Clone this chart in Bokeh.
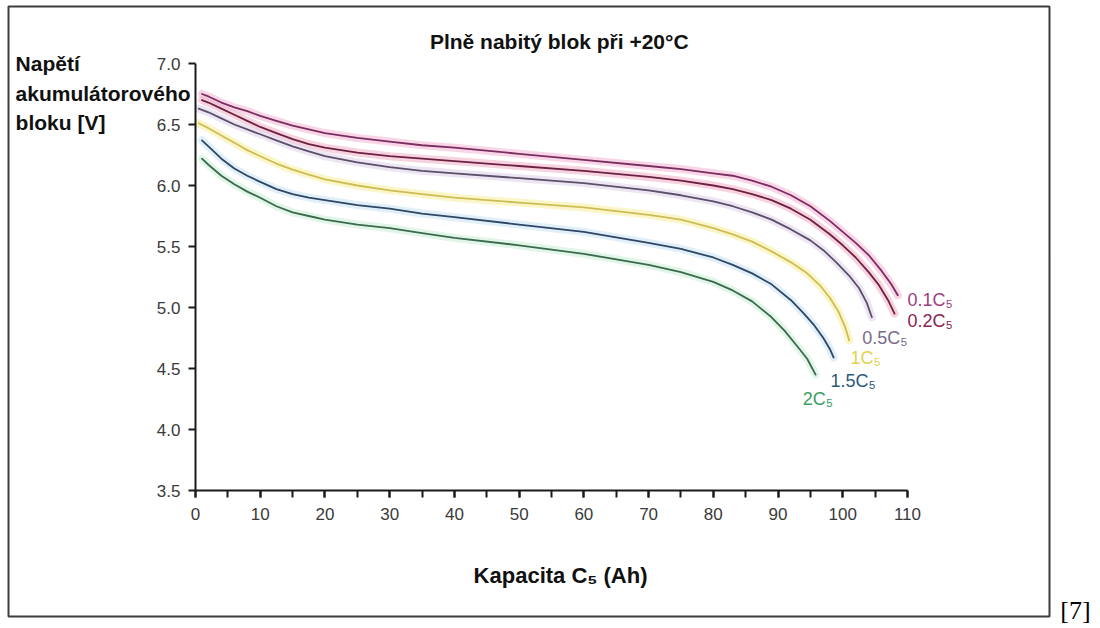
from bokeh.plotting import figure
from bokeh.models import Label, BoxAnnotation, LinearAxis, SingleIntervalTicker, PrintfTickFormatter
from bokeh.embed import file_html
from bokeh.resources import INLINE

# Discharge curves of a fully charged block at +20 °C: capacity (Ah) vs block voltage (V)
rate_labels = ["0.1C₅", "0.2C₅", "0.5C₅", "1C₅", "1.5C₅", "2C₅"]

cap_01 = [1, 2, 4, 6, 8, 10, 12.5, 15, 17.5, 20, 25, 30, 35, 40, 50, 60, 70, 75, 80, 83, 86, 89, 92, 95, 98, 100, 102, 104, 106, 107.5, 108.5]
volt_01 = [6.75, 6.73, 6.68, 6.64, 6.61, 6.57, 6.53, 6.49, 6.46, 6.43, 6.39, 6.36, 6.33, 6.31, 6.26, 6.21, 6.16, 6.135, 6.10, 6.08, 6.04, 5.99, 5.92, 5.83, 5.71, 5.62, 5.53, 5.43, 5.30, 5.19, 5.10]

cap_02 = [1, 2, 4, 6, 8, 10, 12.5, 15, 17.5, 20, 25, 30, 35, 40, 50, 60, 70, 75, 80, 83, 86, 89, 92, 95, 98, 100, 102, 104, 105.5, 107, 108]
volt_02 = [6.70, 6.68, 6.63, 6.58, 6.53, 6.48, 6.43, 6.38, 6.34, 6.31, 6.27, 6.24, 6.22, 6.20, 6.16, 6.12, 6.07, 6.04, 6.00, 5.97, 5.93, 5.88, 5.81, 5.72, 5.60, 5.51, 5.41, 5.29, 5.19, 5.06, 4.95]

cap_05 = [0.5, 2, 4, 6, 8, 10, 12.5, 15, 17.5, 20, 25, 30, 35, 40, 50, 60, 70, 75, 80, 83, 86, 89, 92, 95, 97, 99, 101, 102.5, 103.7, 104.5]
volt_05 = [6.63, 6.60, 6.55, 6.50, 6.46, 6.42, 6.37, 6.32, 6.28, 6.24, 6.19, 6.15, 6.12, 6.10, 6.06, 6.02, 5.96, 5.92, 5.87, 5.83, 5.78, 5.72, 5.64, 5.55, 5.47, 5.37, 5.26, 5.16, 5.04, 4.92]

cap_1 = [0.5, 2, 4, 6, 8, 10, 12.5, 15, 17.5, 20, 25, 30, 35, 40, 50, 60, 70, 75, 80, 83, 86, 89, 92, 94.5, 96.5, 98, 99.3, 100.3, 101]
volt_1 = [6.51, 6.47, 6.41, 6.35, 6.29, 6.24, 6.18, 6.13, 6.09, 6.05, 6.00, 5.96, 5.93, 5.90, 5.86, 5.82, 5.76, 5.72, 5.65, 5.60, 5.54, 5.46, 5.37, 5.28, 5.18, 5.08, 4.97, 4.85, 4.73]

cap_15 = [1, 2, 4, 6, 8, 10, 12.5, 15, 17.5, 20, 25, 30, 35, 40, 50, 60, 70, 75, 80, 83, 86, 89, 92, 94, 95.5, 97, 98, 98.6]
volt_15 = [6.37, 6.32, 6.22, 6.14, 6.08, 6.03, 5.97, 5.93, 5.90, 5.88, 5.84, 5.81, 5.77, 5.74, 5.68, 5.62, 5.53, 5.48, 5.41, 5.35, 5.28, 5.19, 5.06, 4.95, 4.86, 4.75, 4.66, 4.59]

cap_2 = [1, 2, 4, 6, 8, 10, 12.5, 15, 17.5, 20, 25, 30, 35, 40, 50, 60, 70, 75, 80, 83, 86, 89, 91, 93, 94.5, 95.8]
volt_2 = [6.22, 6.17, 6.08, 6.01, 5.95, 5.90, 5.83, 5.78, 5.75, 5.72, 5.68, 5.65, 5.61, 5.57, 5.51, 5.44, 5.35, 5.29, 5.21, 5.14, 5.05, 4.92, 4.81, 4.68, 4.58, 4.45]

x_tick_step = 10
y_tick_step = 0.5
x_bounds = (0, 110)
y_bounds = (3.5, 7.0)

series = [
    (cap_01, volt_01),
    (cap_02, volt_02),
    (cap_05, volt_05),
    (cap_1, volt_1),
    (cap_15, volt_15),
    (cap_2, volt_2),
]

# styling per curve: dark core line, soft coloured halo, label colour
core_colors = ["#7a2d5f", "#6c2142", "#5b4f6a", "#cdbd55", "#2f4664", "#3b6a4c"]
halo_colors = ["#f3b3d4", "#f0aec6", "#dccfe8", "#f7ee9c", "#c9e2f3", "#c8edd7"]
text_colors = ["#a0407e", "#8c2350", "#7a6a8c", "#e2d24e", "#2c5a7c", "#3a9e5e"]
label_pos = [(110.0, 5.06), (110.0, 4.89), (103.0, 4.75), (101.2, 4.59), (98.1, 4.40), (93.8, 4.25)]

SANS = "Liberation Sans"

# the plotting frame spans the whole page; axes are pinned at x=0 and y=3.5
p = figure(
    width=1100, height=628,
    x_range=(-30.126, 139.82), y_range=(2.3689, 7.5164),
    x_axis_type=None, y_axis_type=None, title=None,
    output_backend="svg", toolbar_location=None,
    min_border=0, min_border_left=0, min_border_right=0,
    min_border_top=0, min_border_bottom=0,
)
p.xgrid.visible = False
p.ygrid.visible = False
p.outline_line_color = None
p.background_fill_color = "white"
p.border_fill_color = "white"

for (xs, ys), core, halo in zip(series, core_colors, halo_colors):
    p.line(xs, ys, line_color=halo, line_width=8, line_alpha=0.55, line_join="round", line_cap="round")
    p.line(xs, ys, line_color=core, line_width=1.8, line_join="round", line_cap="round")

# axes
xa = LinearAxis(fixed_location=y_bounds[0], bounds=x_bounds,
                ticker=SingleIntervalTicker(interval=x_tick_step, num_minor_ticks=2))
xa.axis_line_width = 2
xa.axis_line_color = "#1a1a1a"
xa.major_tick_line_color = "#1a1a1a"
xa.minor_tick_line_color = "#1a1a1a"
xa.major_tick_line_width = 2
xa.minor_tick_line_width = 2
xa.major_tick_in = 0
xa.major_tick_out = 7
xa.minor_tick_in = 0
xa.minor_tick_out = 7
xa.major_label_text_font = SANS
xa.major_label_text_font_size = "17px"
xa.major_label_text_color = "#3a3a3a"
xa.major_label_standoff = 10
p.add_layout(xa, "below")

ya = LinearAxis(fixed_location=x_bounds[0], bounds=y_bounds,
                ticker=SingleIntervalTicker(interval=y_tick_step, num_minor_ticks=0),
                formatter=PrintfTickFormatter(format="%.1f"))
ya.axis_line_width = 2
ya.axis_line_color = "#1a1a1a"
ya.major_tick_line_color = "#1a1a1a"
ya.major_tick_line_width = 2
ya.major_tick_in = 0
ya.major_tick_out = 7
ya.minor_tick_line_color = None
ya.major_label_text_font = SANS
ya.major_label_text_font_size = "17px"
ya.major_label_text_color = "#3a3a3a"
ya.major_label_standoff = 8
ya.major_label_text_baseline = "alphabetic"
p.add_layout(ya, "left")

# surrounding frame
p.add_layout(BoxAnnotation(left=-28.89, right=131.94, bottom=2.4672, top=7.467,
                           fill_alpha=0, line_color="#3c3c3c", line_alpha=1.0, line_width=2))

# title and axis titles
p.add_layout(Label(x=56.2, y=7.18, text="Plně nabitý blok při +20°C", text_align="center",
                   text_baseline="alphabetic", text_font=SANS, text_font_style="bold",
                   text_font_size="21px", text_color="#111111"))
for txt, yy in zip(["Napětí", "akumulátorového", "bloku [V]"], [7.0, 6.754, 6.516]):
    p.add_layout(Label(x=-27.8, y=yy, text=txt, text_align="left", text_baseline="alphabetic",
                       text_font=SANS, text_font_style="bold", text_font_size="21px",
                       text_color="#111111"))
p.add_layout(Label(x=56.4, y=2.803, text="Kapacita C₅ (Ah)", text_align="center",
                   text_baseline="alphabetic", text_font=SANS, text_font_style="bold",
                   text_font_size="22px", text_color="#111111"))

# curve labels
for txt, (lx, ly), col in zip(rate_labels, label_pos, text_colors):
    p.add_layout(Label(x=lx, y=ly, text=txt, text_align="left", text_baseline="middle",
                       text_font=SANS, text_font_size="18px", text_color=col))

# reference mark
p.add_layout(Label(x=133.6, y=2.52, text="[7]", text_align="left", text_baseline="middle",
                   text_font="Liberation Serif", text_font_size="26px", text_color="#000000"))

open("out.html", "w").write(file_html(p, INLINE))
